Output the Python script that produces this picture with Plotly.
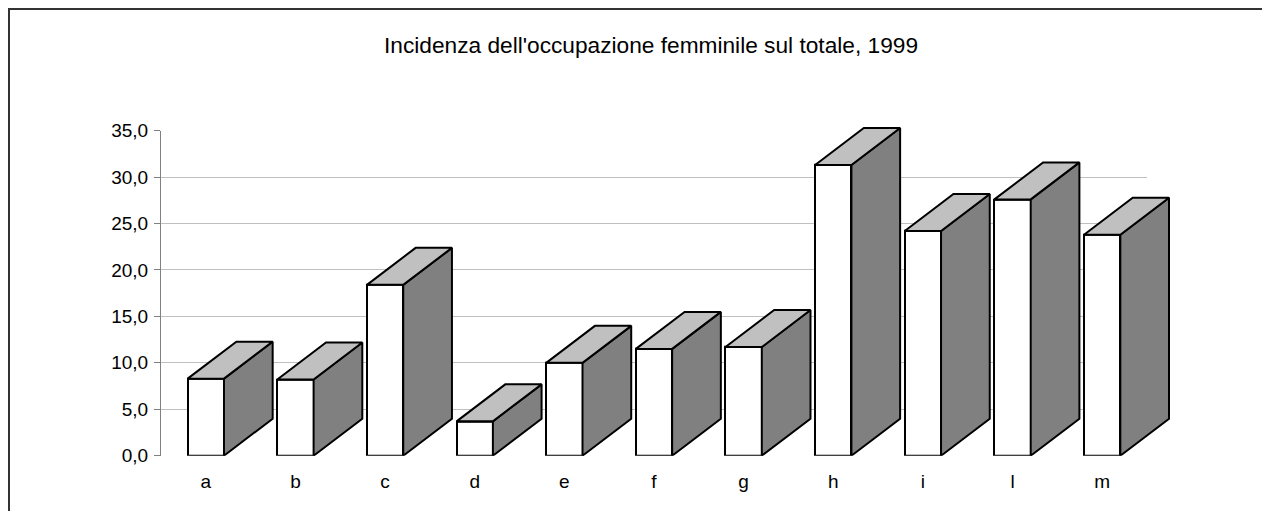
import plotly.graph_objects as go

categories = ["a", "b", "c", "d", "e", "f", "g", "h", "i", "l", "m"]
values = [8.3, 8.2, 18.4, 3.7, 10.0, 11.5, 11.7, 31.3, 24.2, 27.6, 23.8]
y_ticks = [0, 5, 10, 15, 20, 25, 30, 35]
y_tick_labels = ["0,0", "5,0", "10,0", "15,0", "20,0", "25,0", "30,0", "35,0"]
title_text = "Incidenza dell'occupazione femminile sul totale, 1999"

OFF = 8                               # default page body margin
W, H = 1270 - 2 * OFF, 519 - 2 * OFF  # figure fits the window exactly
# plot area (screen pixels -> figure pixels)
PX0, PX1 = 161 - OFF, 1147 - OFF
PY0, PY1 = 455.7 - OFF, 130.7 - OFF
EXT_X1, EXT_Y1 = 1190 - OFF, 105 - OFF

n = len(categories)
ymax = 35
x_dom = [PX0 / W, PX1 / W]
y_dom = [(H - PY0) / H, (H - PY1) / H]
x2_dom = [PX0 / W, EXT_X1 / W]
y2_dom = [(H - PY0) / H, (H - EXT_Y1) / H]
x2_max = n * (EXT_X1 - PX0) / (PX1 - PX0)
y2_max = ymax * (PY0 - EXT_Y1) / (PY0 - PY1)

px_per_x = (PX1 - PX0) / n
px_per_y = (PY0 - PY1) / ymax
bar_w = 36.3 / px_per_x
depth_x = 48.7 / px_per_x
depth_y = 37.0 / px_per_y

xpos = [i + 0.5 for i in range(n)]

fig = go.Figure()
fig.add_trace(go.Bar(
    x=xpos, y=values, width=bar_w, xaxis="x", yaxis="y",
    marker=dict(color="white", line=dict(color="black", width=2)),
    hoverinfo="skip", showlegend=False,
))

for xc, v in zip(xpos, values):
    xl, xr = xc - bar_w / 2, xc + bar_w / 2
    # side face
    fig.add_trace(go.Scatter(
        x=[xr, xr + depth_x, xr + depth_x, xr, xr],
        y=[0, depth_y, v + depth_y, v, 0],
        xaxis="x2", yaxis="y2", mode="lines", fill="toself",
        fillcolor="#808080", line=dict(color="black", width=2),
        hoverinfo="skip", showlegend=False,
    ))
    # top face
    fig.add_trace(go.Scatter(
        x=[xl, xl + depth_x, xr + depth_x, xr, xl],
        y=[v, v + depth_y, v + depth_y, v, v],
        xaxis="x2", yaxis="y2", mode="lines", fill="toself",
        fillcolor="#c0c0c0", line=dict(color="black", width=2),
        hoverinfo="skip", showlegend=False,
    ))

font_family = "Liberation Sans, Arial, sans-serif"
frame = dict(color="#333333", width=2)

fig.update_layout(
    width=W, height=H, autosize=False,
    margin=dict(l=0, r=0, t=0, b=0, pad=0, autoexpand=False),
    paper_bgcolor="white", plot_bgcolor="rgba(0,0,0,0)",
    font=dict(family=font_family, size=19, color="black"),
    title=dict(text=title_text, x=(651 - OFF) / W, xanchor="center",
               y=1 - (45 - OFF) / H, yanchor="middle", yref="container",
               automargin=False,
               font=dict(size=22.7, family=font_family, color="black")),
    showlegend=False,
    bargap=0,
    xaxis=dict(domain=x_dom, range=[0, n], tickmode="array",
               tickvals=xpos, ticktext=categories, showgrid=False,
               zeroline=False, showline=False, ticks="", automargin=False,
               ticklabelstandoff=12, fixedrange=True),
    yaxis=dict(domain=y_dom, range=[0, ymax], tickmode="array",
               tickvals=y_ticks, ticktext=y_tick_labels,
               showgrid=True, gridcolor="#c0c0c0", gridwidth=1,
               zeroline=False, showline=True, linecolor="#808080",
               linewidth=1, ticks="outside", ticklen=6, automargin=False,
               tickcolor="#808080", ticklabelstandoff=2, fixedrange=True),
    xaxis2=dict(domain=x2_dom, range=[0, x2_max], anchor="y2",
                visible=False, automargin=False, fixedrange=True),
    yaxis2=dict(domain=y2_dom, range=[0, y2_max], anchor="x2",
                visible=False, automargin=False, fixedrange=True),
    shapes=[
        dict(type="line", xref="paper", yref="paper",
             x0=0, x1=1, y0=1 - 1 / H, y1=1 - 1 / H,
             line=frame, layer="above"),
        dict(type="line", xref="paper", yref="paper",
             x0=1 / W, x1=1 / W, y0=0, y1=1 - 1 / H,
             line=frame, layer="above"),
    ],
)

fig.write_html("out.html", config={"displayModeBar": False})
